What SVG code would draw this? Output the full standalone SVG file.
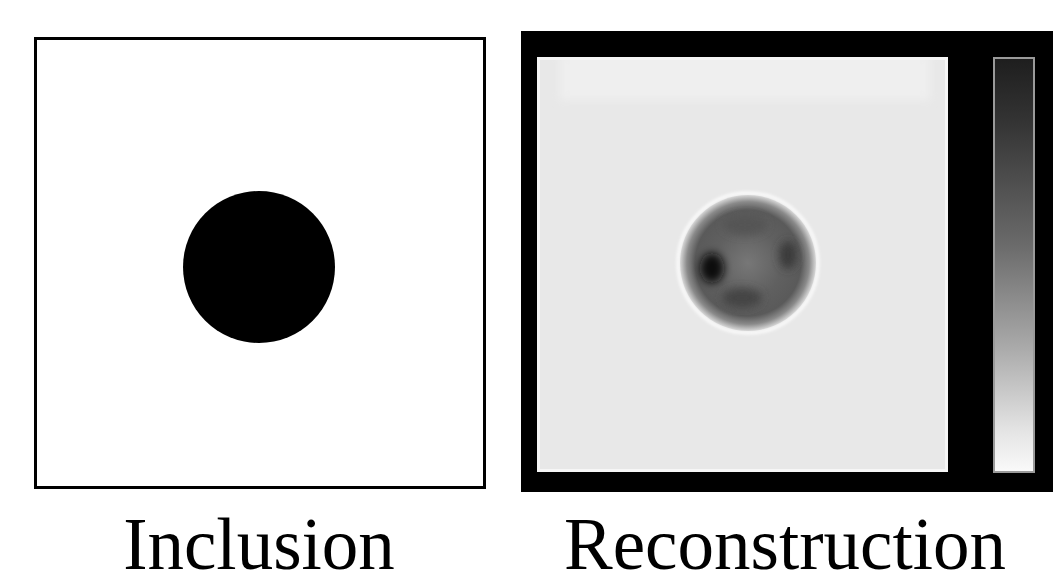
<svg xmlns="http://www.w3.org/2000/svg" width="1053" height="585" viewBox="0 0 1053 585">
<defs>
<style>
.label{font-family:"Liberation Serif","Times New Roman",serif;font-size:73px;fill:#000;text-anchor:middle}
</style>
<radialGradient id="blob" cx="0.5" cy="0.5" r="0.5">
<stop offset="0" stop-color="#777"/>
<stop offset="0.5" stop-color="#606060"/>
<stop offset="0.78" stop-color="#5a5a5a"/>
<stop offset="0.9" stop-color="#8a8a8a"/>
<stop offset="1" stop-color="#d8d8d8"/>
</radialGradient>
<linearGradient id="cbar" x1="0" y1="0" x2="0" y2="1">
<stop offset="0" stop-color="#1e1e1e"/>
<stop offset="0.15" stop-color="#333"/>
<stop offset="0.45" stop-color="#6a6a6a"/>
<stop offset="0.7" stop-color="#aaa"/>
<stop offset="0.9" stop-color="#e4e4e4"/>
<stop offset="1" stop-color="#fafafa"/>
</linearGradient>
<clipPath id="clipImg"><rect x="537" y="57" width="411" height="415"/></clipPath>
<filter id="soft" x="-50%" y="-50%" width="200%" height="200%"><feGaussianBlur stdDeviation="4"/></filter>
<filter id="soft2" x="-50%" y="-50%" width="200%" height="200%"><feGaussianBlur stdDeviation="1.5"/></filter>
</defs>
<rect width="1053" height="585" fill="#fff"/>
<g id="inclusion">
<rect x="35.5" y="38.5" width="449" height="449" fill="#fff" stroke="#000" stroke-width="3"/>
<circle cx="259" cy="267" r="76" fill="#000"/>
</g>
<g id="reconstruction">
<rect x="521" y="31" width="532" height="461" fill="#000"/>
<rect x="537" y="57" width="411" height="415" fill="#e8e8e8"/>
<g clip-path="url(#clipImg)">
<rect x="560" y="55" width="370" height="45" fill="#efefef" filter="url(#soft)"/>
</g>
<rect x="538.5" y="58.5" width="408" height="412" fill="none" stroke="#f6f6f6" stroke-width="3"/>
<circle cx="748" cy="263" r="70" fill="none" stroke="#fcfcfc" stroke-width="3" filter="url(#soft2)"/>
<circle cx="748" cy="263" r="68" fill="url(#blob)"/>
<ellipse cx="712" cy="268" rx="12" ry="15" fill="#111" filter="url(#soft)"/>
<ellipse cx="788" cy="255" rx="9" ry="14" fill="#3a3a3a" filter="url(#soft)"/>
<ellipse cx="742" cy="298" rx="20" ry="10" fill="#444" filter="url(#soft)"/>
<ellipse cx="745" cy="225" rx="22" ry="10" fill="#555" filter="url(#soft)"/>
</g>
<g id="colorbar">
<rect x="994" y="58" width="40" height="414" fill="url(#cbar)" stroke="#9a9a9a" stroke-width="2"/>
</g>
<text class="label" x="259" y="569">Inclusion</text>
<text class="label" x="785" y="569">Reconstruction</text>
</svg>
